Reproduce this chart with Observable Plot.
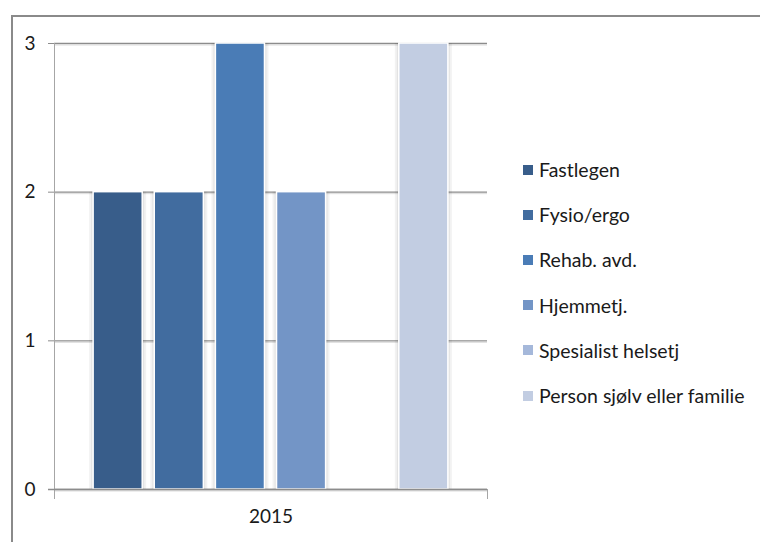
<!DOCTYPE html>
<html><head><meta charset="utf-8">
<script src="https://cdn.jsdelivr.net/npm/d3@7"></script>
<script src="https://cdn.jsdelivr.net/npm/@observablehq/plot@0.6"></script>
<style>
body{margin:0;background:#fff;font-family:Lato,"Open Sans",sans-serif;}
#wrap{position:relative;width:760px;height:542px;overflow:hidden;}
#border{position:absolute;left:11px;top:15px;width:800px;height:600px;border-left:2px solid #8a8a8a;border-top:2px solid #8a8a8a;box-sizing:border-box;}
#legend{position:absolute;left:523px;top:147px;}
.li{height:45.2px;display:flex;align-items:center;font-size:19.5px;color:#1a1a1a;white-space:nowrap;}
.sw{width:10px;height:10px;margin-right:6px;}
</style></head>
<body><div id="wrap"><div id="border"></div><div id="chart"></div><div id="legend"></div></div>
<script>
const year = "2015";
const series = ["Fastlegen","Fysio/ergo","Rehab. avd.","Hjemmetj.","Spesialist helsetj","Person sjølv eller familie"];
const values = [2, 2, 3, 2, null, 3];
const colors = ["#385d8a","#416c9f","#4a7cb6","#7395c6","#a5b8da","#c2cde2"];
const yTicks = [0, 1, 2, 3];

const data = series.map((s, i) => ({year, series: s, value: values[i]})).filter(d => d.value != null);

const chart = Plot.plot({
  width: 760, height: 542,
  marginTop: 43, marginBottom: 53, marginLeft: 54, marginRight: 273,
  style: {fontFamily: "Lato, sans-serif", fontSize: "19px", color: "#1a1a1a", background: "transparent"},
  x: {domain: series, paddingInner: 0.197, paddingOuter: 0.64, round: false, axis: null},
  y: {domain: [0, 3], ticks: yTicks, label: null},
  color: {domain: series, range: colors},
  marks: [
    Plot.gridY(yTicks, {stroke: "#8c8c8c", strokeOpacity: 1, strokeWidth: 1.3}),
    Plot.gridY(yTicks, {stroke: "#dcdcdc", strokeOpacity: 1, dy: 1.5}),
    Plot.frame({anchor: "left", stroke: "#a6a6a6", insetBottom: -9}),
    Plot.frame({anchor: "right", stroke: "#a6a6a6", insetTop: 446, insetBottom: -9}),
    Plot.axisY({ticks: yTicks, tickFormat: d3.format("d"), tickSize: 6, tickPadding: 13, stroke: "#8c8c8c", label: null, fontSize: 19}),
    Plot.barY(data, {x: "series", y: "value", fill: "#000", fillOpacity: 0.05, insetLeft: -4, insetRight: -4}),
    Plot.barY(data, {x: "series", y: "value", fill: "#000", fillOpacity: 0.06, insetLeft: -2, insetRight: -2}),
    Plot.barY(data, {x: "series", y: "value", fill: "series", stroke: "#fff", strokeWidth: 1.5}),
    Plot.ruleY([0], {stroke: "#8c8c8c", strokeWidth: 1.3, insetLeft: -6}),
    Plot.text([year], {frameAnchor: "bottom", dy: 33, text: d => d, fontSize: 19, fill: "#1a1a1a"})
  ]
});
document.getElementById("chart").appendChild(chart);

const lg = document.getElementById("legend");
series.forEach((s, i) => {
  const row = document.createElement("div");
  row.className = "li";
  row.innerHTML = `<span class="sw" style="background:${colors[i]}"></span><span>${s}</span>`;
  lg.appendChild(row);
});
</script>
</body></html>
